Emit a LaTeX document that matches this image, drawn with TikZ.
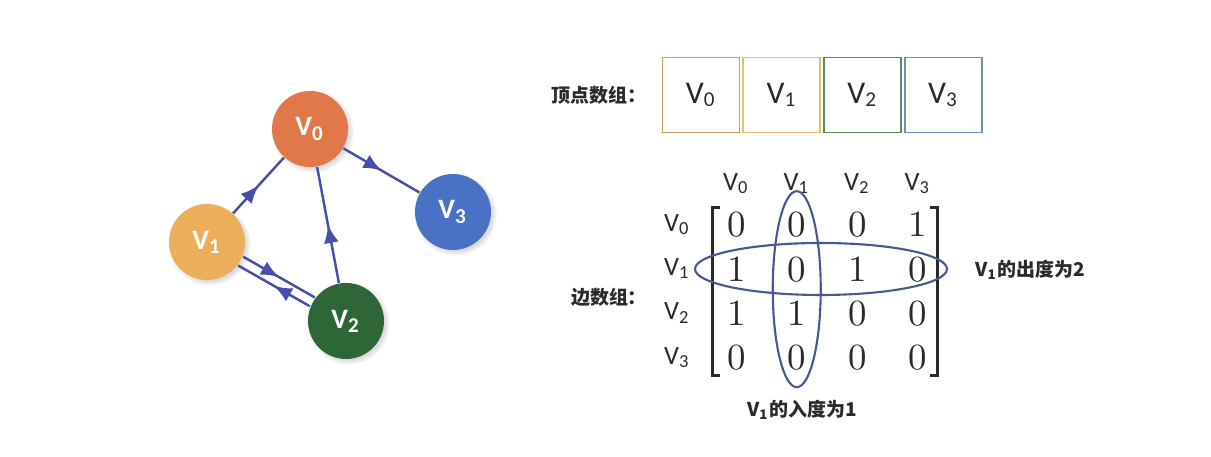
\documentclass[tikz,border=0pt]{standalone}
\usepackage{fontspec}
\usetikzlibrary{arrows.meta,positioning,calc,matrix,shadows,decorations.markings}
\newfontfamily\cjk{Noto Sans CJK SC}
\newfontfamily\vfont{Carlito}
\definecolor{vzero}{HTML}{E0784A}
\definecolor{vone}{HTML}{EBAE5A}
\definecolor{vtwo}{HTML}{2F6638}
\definecolor{vthree}{HTML}{4A72C4}
\definecolor{boxzero}{HTML}{D39A66}
\definecolor{boxone}{HTML}{E2C36A}
\definecolor{boxtwo}{HTML}{5C8C5A}
\definecolor{boxthree}{HTML}{6E8CC8}
\definecolor{edgeblue}{HTML}{4650A8}
\definecolor{ringblue}{HTML}{4A5890}
\definecolor{ink}{HTML}{2A2A2A}

\begin{document}
\begin{tikzpicture}[x=0.1mm, y=-0.1mm,
    vertex/.style={circle, minimum size=7.6mm, inner sep=0pt, text=white,
        font=\vfont\bfseries\fontsize{8}{9}\selectfont,
        circular drop shadow={shadow xshift=0.2mm, shadow yshift=-0.2mm, opacity=0.3}},
    cell/.style={draw, line width=0.5pt, minimum width=7.7mm, minimum height=7.5mm,
        inner sep=0pt, text=ink, font=\vfont\fontsize{9}{10}\selectfont},
    edge/.style={edgeblue, line width=0.7pt, postaction={decorate},
        decoration={markings, mark=at position 0.5 with {\arrow{Latex[length=1.8mm,width=1.5mm]}}}},
    head/.style={text=ink, font=\vfont\fontsize{7.5}{8}\selectfont},
    cjktext/.style={text=ink, font=\cjk\bfseries\fontsize{5.4}{6}\selectfont},
    ring/.style={draw=ringblue, line width=0.6pt},
    bracket/.style={ink, line width=0.9pt}
]
    \useasboundingbox (0,0) rectangle (1211,457);

    % graph
    \node[vertex, fill=vzero] (v0) at (310,129) {V\textsubscript{0}};
    \node[vertex, fill=vone] (v1) at (207,242) {V\textsubscript{1}};
    \node[vertex, fill=vtwo] (v2) at (346,321) {V\textsubscript{2}};
    \node[vertex, fill=vthree] (v3) at (453,212) {V\textsubscript{3}};

    \draw[edge] (v1) -- (v0);
    \draw[edge] (v2) -- (v0);
    \draw[edge] (v0) -- (v3);
    \draw[edge, transform canvas={shift={(0.25mm,0.44mm)}}] (v1) -- (v2);
    \draw[edge, transform canvas={shift={(-0.25mm,-0.44mm)}}] (v2) -- (v1);

    % vertex array
    \node[cell, draw=boxzero] (b0) at (701,95) {V\textsubscript{0}};
    \node[cell, draw=boxone, right=0.2mm of b0] (b1) {V\textsubscript{1}};
    \node[cell, draw=boxtwo, right=0.2mm of b1] (b2) {V\textsubscript{2}};
    \node[cell, draw=boxthree, right=0.2mm of b2] (b3) {V\textsubscript{3}};
    \node[cjktext, left=0.3mm of b0] (vlabel) {顶点数组：};

    % edge array
    \matrix (adj) [matrix of nodes, inner sep=0pt,
        nodes={minimum width=6.05mm, minimum height=4.4mm, inner sep=0pt,
            text=ink, font=\fontsize{10.5}{12}\selectfont}] at (827,291) {
        0 & 0 & 0 & 1 \\
        1 & 0 & 1 & 0 \\
        1 & 1 & 0 & 0 \\
        0 & 0 & 0 & 0 \\
    };
    \foreach \c [count=\i] in {0,...,3} {
        \node[head] (col\c) at ([yshift=4.1mm]adj-1-\i) {V\textsubscript{\c}};
        \node[head] (row\c) at ([xshift=-5.9mm]adj-\i-1) {V\textsubscript{\c}};
    }
    \draw[bracket] ([xshift=1.5mm,yshift=-0.6mm]adj.north west) -- ([xshift=0.7mm,yshift=-0.6mm]adj.north west)
        -- ([xshift=0.7mm,yshift=0.5mm]adj.south west) -- ([xshift=1.5mm,yshift=0.5mm]adj.south west);
    \draw[bracket] ([xshift=-1.9mm,yshift=-0.6mm]adj.north east) -- ([xshift=-1.1mm,yshift=-0.6mm]adj.north east)
        -- ([xshift=-1.1mm,yshift=0.5mm]adj.south east) -- ([xshift=-1.9mm,yshift=0.5mm]adj.south east);
    \node[cjktext] (elabel) at (609,297) {边数组：};

    % in and out degree of V1
    \draw[ring] ([yshift=0.2mm]$(adj-1-2)!0.5!(adj-4-2)$) ellipse [x radius=2.4mm, y radius=9.8mm];
    \draw[ring] ([xshift=-0.6mm]$(adj-2-1)!0.5!(adj-2-4)$) ellipse [x radius=12.6mm, y radius=2.6mm];
    \node[cjktext, anchor=west] (outdeg) at (963,270) {V\textsubscript{1}的出度为2};
    \node[cjktext] (indeg) at (802,410) {V\textsubscript{1}的入度为1};
\end{tikzpicture}
\end{document}
